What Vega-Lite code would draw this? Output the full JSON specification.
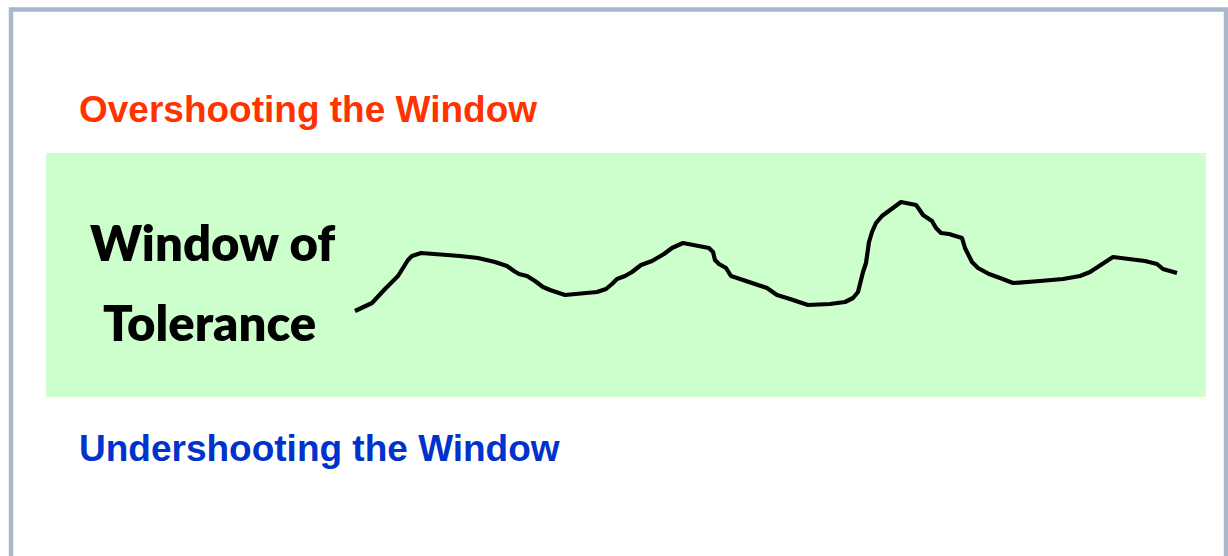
{
  "$schema": "https://vega.github.io/schema/vega-lite/v6.json",
  "width": 1228,
  "height": 556,
  "padding": 0,
  "autosize": {"type": "fit", "contains": "padding"},
  "background": "white",
  "config": {"view": {"stroke": null}},
  "datasets": {
    "frame": [{"x": 11, "x2": 1226, "y": 9.5, "y2": 580}],
    "zone": [{"x": 46, "x2": 1206, "y": 153, "y2": 397}],
    "curve": [
      {"x": 355, "y": 311}, {"x": 372, "y": 303}, {"x": 385, "y": 289}, {"x": 398, "y": 276},
      {"x": 408, "y": 260}, {"x": 412, "y": 256}, {"x": 421, "y": 253}, {"x": 460, "y": 256},
      {"x": 478, "y": 258}, {"x": 495, "y": 262}, {"x": 507, "y": 266}, {"x": 514, "y": 271},
      {"x": 519, "y": 274}, {"x": 527, "y": 276}, {"x": 535, "y": 281}, {"x": 543, "y": 287},
      {"x": 550, "y": 290}, {"x": 565, "y": 295}, {"x": 597, "y": 292}, {"x": 606, "y": 289},
      {"x": 612, "y": 284}, {"x": 617, "y": 279}, {"x": 625, "y": 276}, {"x": 632, "y": 272},
      {"x": 641, "y": 265}, {"x": 652, "y": 261}, {"x": 664, "y": 254}, {"x": 672, "y": 248},
      {"x": 683, "y": 243}, {"x": 709, "y": 248}, {"x": 713, "y": 252}, {"x": 715, "y": 260},
      {"x": 719, "y": 264}, {"x": 726, "y": 268}, {"x": 731, "y": 276}, {"x": 767, "y": 288},
      {"x": 777, "y": 295}, {"x": 790, "y": 299}, {"x": 808, "y": 305}, {"x": 830, "y": 304},
      {"x": 845, "y": 302}, {"x": 853, "y": 298}, {"x": 858, "y": 292}, {"x": 863, "y": 272},
      {"x": 866, "y": 263}, {"x": 869, "y": 242}, {"x": 872, "y": 232}, {"x": 876, "y": 223},
      {"x": 882, "y": 216}, {"x": 901, "y": 202}, {"x": 916, "y": 205}, {"x": 919, "y": 209},
      {"x": 923, "y": 215}, {"x": 932, "y": 221}, {"x": 936, "y": 228}, {"x": 941, "y": 233},
      {"x": 949, "y": 234}, {"x": 962, "y": 238}, {"x": 965, "y": 248}, {"x": 972, "y": 262},
      {"x": 978, "y": 268}, {"x": 989, "y": 274}, {"x": 1000, "y": 278}, {"x": 1013, "y": 283},
      {"x": 1040, "y": 281}, {"x": 1063, "y": 279}, {"x": 1080, "y": 276}, {"x": 1090, "y": 272},
      {"x": 1113, "y": 257}, {"x": 1145, "y": 261}, {"x": 1157, "y": 264}, {"x": 1163, "y": 269},
      {"x": 1170, "y": 271}, {"x": 1177, "y": 273}
    ],
    "outside": [
      {"x": 79, "y": 122, "label": "Overshooting the Window", "kind": "over"},
      {"x": 79, "y": 461, "label": "Undershooting the Window", "kind": "under"}
    ],
    "inside": [
      {"x": 90, "y": 261, "label": "Window of"},
      {"x": 103, "y": 341, "label": "Tolerance"}
    ]
  },
  "layer": [
    {
      "data": {"name": "zone"},
      "mark": {"type": "rect", "color": "#ccffcc"},
      "encoding": {
        "x": {"field": "x", "type": "quantitative", "scale": {"domain": [0, 1228], "nice": false, "zero": false}, "axis": null},
        "x2": {"field": "x2"},
        "y": {"field": "y", "type": "quantitative", "scale": {"domain": [0, 556], "nice": false, "zero": false, "reverse": true}, "axis": null},
        "y2": {"field": "y2"}
      }
    },
    {
      "data": {"name": "frame"},
      "mark": {"type": "rect", "fill": null, "stroke": "#a8b7cb", "strokeWidth": 4.5, "clip": true},
      "encoding": {
        "x": {"field": "x", "type": "quantitative"},
        "x2": {"field": "x2"},
        "y": {"field": "y", "type": "quantitative"},
        "y2": {"field": "y2"}
      }
    },
    {
      "data": {"name": "curve"},
      "mark": {"type": "line", "color": "black", "strokeWidth": 4.2, "strokeJoin": "round", "strokeCap": "butt"},
      "encoding": {
        "x": {"field": "x", "type": "quantitative"},
        "y": {"field": "y", "type": "quantitative"},
        "order": {"field": "x", "type": "quantitative"}
      }
    },
    {
      "data": {"name": "outside"},
      "mark": {"type": "text", "align": "left", "baseline": "alphabetic", "font": "Liberation Sans", "fontWeight": "bold", "fontSize": 37},
      "encoding": {
        "x": {"field": "x", "type": "quantitative"},
        "y": {"field": "y", "type": "quantitative"},
        "text": {"field": "label"},
        "color": {"field": "kind", "type": "nominal", "scale": {"domain": ["over", "under"], "range": ["#ff3300", "#0033cc"]}, "legend": null}
      }
    },
    {
      "data": {"name": "inside"},
      "mark": {"type": "text", "align": "left", "baseline": "alphabetic", "font": "Lato", "fontWeight": 800, "fontSize": 49, "color": "black"},
      "encoding": {
        "x": {"field": "x", "type": "quantitative"},
        "y": {"field": "y", "type": "quantitative"},
        "text": {"field": "label"}
      }
    }
  ]
}
